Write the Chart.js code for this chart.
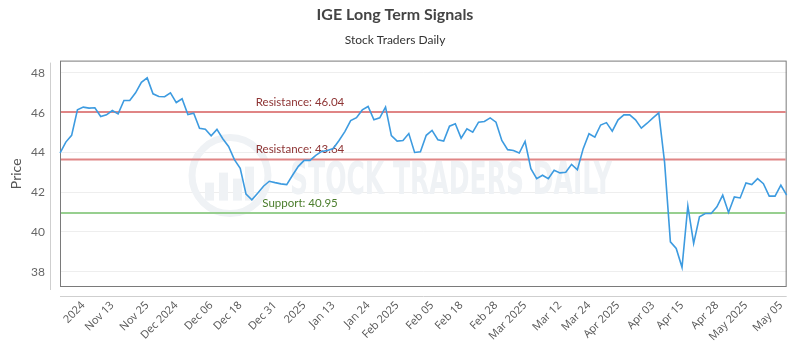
<!DOCTYPE html>
<html>
<head>
<meta charset="utf-8">
<script src="https://cdn.jsdelivr.net/npm/chart.js@4.4.1/dist/chart.umd.min.js"></script>
<style>
  body { margin: 0; background: #fff; }
  #wrap { width: 800px; height: 350px; }
</style>
</head>
<body>
<div id="wrap"><canvas id="chart"></canvas></div>
<script>
// closing prices (one per trading day)
const prices = [
  43.97, 44.52, 44.86, 46.14, 46.28, 46.23, 46.25, 45.81, 45.89, 46.11,
  45.94, 46.61, 46.61, 47.00, 47.53, 47.75, 46.95, 46.81, 46.80, 47.00,
  46.51, 46.70, 45.91, 45.97, 45.22, 45.17, 44.84, 45.16, 44.69, 44.30,
  43.64, 43.20, 41.90, 41.62, 41.95, 42.30, 42.55, 42.48, 42.42, 42.38,
  42.85, 43.30, 43.60, 43.60, 43.85, 44.05, 44.10, 44.20, 44.60, 45.05,
  45.60, 45.75, 46.14, 46.31, 45.64, 45.74, 46.28, 44.85, 44.57, 44.60,
  44.95, 44.00, 44.03, 44.86, 45.11, 44.64, 44.57, 45.32, 45.44, 44.72,
  45.19, 45.02, 45.52, 45.56, 45.74, 45.52, 44.60, 44.14, 44.10, 43.97,
  44.55, 43.18, 42.68, 42.85, 42.68, 43.10, 42.97, 43.00, 43.40, 43.13,
  44.19, 44.94, 44.77, 45.38, 45.50, 45.07, 45.64, 45.89, 45.89, 45.64,
  45.22, 45.47, 45.74, 45.99, 43.50, 39.50, 39.17, 38.22, 41.31, 39.42,
  40.76, 40.93, 40.93, 41.26, 41.85, 40.98, 41.76, 41.71, 42.46, 42.38,
  42.68, 42.43, 41.80, 41.80, 42.35, 41.85
];

// x tick labels and the point each one sits on
const tickLabels = ['2024', 'Nov 13', 'Nov 25', 'Dec 2024', 'Dec 06', 'Dec 18', 'Dec 31', '2025',
  'Jan 13', 'Jan 24', 'Feb 2025', 'Feb 05', 'Feb 18', 'Feb 28', 'Mar 2025', 'Mar 12', 'Mar 24',
  'Apr 2025', 'Apr 03', 'Apr 15', 'Apr 28', 'May 2025', 'May 05'];
const tickIdx = [4, 9, 15, 20, 26, 31, 37, 42, 47, 53, 58, 64, 69, 75, 80, 86, 91, 96, 102, 107, 113, 118, 124];

const yTicks = [38, 40, 42, 44, 46, 48];

// signal levels
const levelNames = ['Resistance', 'Resistance', 'Support'];
const levelValues = [46.04, 43.64, 40.95];
const levelColors = ['#e08585', '#e08585', '#97cf8f'];
const levelTextColors = ['#8e3434', '#8e3434', '#4b7d2c'];

const categories = prices.map((_, i) => {
    const k = tickIdx.indexOf(i);
    return k >= 0 ? tickLabels[k] : '';
});

const decor = {
    id: 'decor',
    beforeDatasetsDraw(chart) {
        const { ctx, chartArea: a, scales: { y } } = chart;
        ctx.save();

        // faint watermark
        ctx.strokeStyle = '#eff2f5';
        ctx.fillStyle = '#eff2f5';
        ctx.lineWidth = 7;
        ctx.beginPath();
        ctx.arc(a.left + 170, a.top + 115, 38, 0, Math.PI * 2);
        ctx.stroke();
        [[-20, 18], [-6, 28], [8, 22], [20, 34]].forEach(([dx, h]) => {
            ctx.fillRect(a.left + 170 + dx - 5, a.top + 140 - h, 9, h);
        });
        ctx.font = 'bold 44px "DejaVu Sans Condensed", "Liberation Sans Narrow", sans-serif';
        ctx.textBaseline = 'alphabetic';
        const wm = 'STOCK TRADERS DAILY';
        const w = ctx.measureText(wm).width;
        ctx.translate(a.left + 230, a.top + 133);
        ctx.scale(322 / w, 1);
        ctx.fillText(wm, 0, 0);
        ctx.restore();

        ctx.save();
        // outer axis lines
        ctx.strokeStyle = '#cfcfcf';
        ctx.lineWidth = 1;
        ctx.beginPath();
        ctx.moveTo(a.left - 9.5, a.top + 2);
        ctx.lineTo(a.left - 9.5, a.bottom + 3);
        ctx.moveTo(a.left, a.bottom + 9.5);
        ctx.lineTo(a.right, a.bottom + 9.5);
        ctx.stroke();
        // plot box
        ctx.strokeStyle = '#7a7a7a';
        ctx.strokeRect(a.left + 0.5, a.top + 0.5, a.right - a.left - 1, a.bottom - a.top - 1);

        // level lines + labels
        ctx.textAlign = 'center';
        ctx.textBaseline = 'middle';
        ctx.font = '11.5px Lato, sans-serif';
        levelValues.forEach((v, i) => {
            const py = y.getPixelForValue(v);
            ctx.strokeStyle = levelColors[i];
            ctx.lineWidth = 2;
            ctx.beginPath();
            ctx.moveTo(a.left + 1, py);
            ctx.lineTo(a.right - 1, py);
            ctx.stroke();
            ctx.fillStyle = levelTextColors[i];
            ctx.fillText(levelNames[i] + ': ' + v.toFixed(2), a.left + 240, py - 10);
        });
        ctx.restore();
    }
};

Chart.defaults.font.family = 'Lato, sans-serif';

new Chart(document.getElementById('chart'), {
    type: 'line',
    data: {
        labels: categories,
        datasets: [{
            label: 'IGE',
            data: prices,
            borderColor: '#3d9be0',
            borderWidth: 1.6,
            pointRadius: 0,
            tension: 0,
            fill: false,
        }],
    },
    options: {
        responsive: true,
        maintainAspectRatio: false,
        animation: false,
        layout: { padding: { left: 0, right: 10, top: 0, bottom: 0 } },
        plugins: {
            legend: { display: false },
            tooltip: { enabled: false },
            title: {
                display: true,
                text: 'IGE Long Term Signals',
                color: '#444',
                font: { size: 16, weight: 'bold' },
                padding: { top: 5, bottom: 4 },
            },
            subtitle: {
                display: true,
                text: 'Stock Traders Daily',
                color: '#333',
                font: { size: 12 },
                padding: { top: 5, bottom: 13 },
            },
        },
        scales: {
            x: {
                grid: { display: false },
                border: { display: false },
                ticks: {
                    autoSkip: false,
                    maxRotation: 45,
                    minRotation: 45,
                    padding: 4,
                    color: '#555',
                    font: { family: '"Open Sans", sans-serif', size: 11 },
                },
                afterFit: (s) => { s.height = 63; },
            },
            y: {
                min: 37.23,
                max: 48.62,
                afterBuildTicks: (s) => { s.ticks = yTicks.map(v => ({ value: v })); },
                grid: { color: '#eeeeee', drawTicks: false },
                border: { display: false },
                ticks: {
                    padding: 15,
                    color: '#666',
                    font: { size: 12 },
                },
                title: {
                    display: true,
                    text: 'Price',
                    color: '#555',
                    font: { size: 14 },
                    padding: { top: 8, bottom: 0 },
                },
                afterFit: (s) => { s.width = 60; },
            },
        },
    },
    plugins: [decor],
});
</script>
</body>
</html>
